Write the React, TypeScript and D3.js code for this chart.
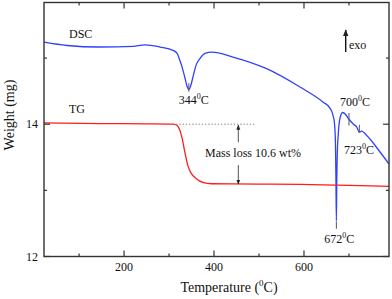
import React from "react";
import * as d3 from "d3";

// temperature (C) and weight (mg)
const tgTemp = [22, 146, 250, 309, 318, 324, 329, 335, 342, 349, 360, 375, 395, 500, 591, 700, 789];
const tgWeight = [14.02, 14.01, 14.005, 14.0, 13.98, 13.91, 13.79, 13.58, 13.37, 13.26, 13.18, 13.12, 13.1, 13.095, 13.09, 13.075, 13.06];

// DSC signal, drawn on the weight axis (arbitrary units)
const dscTemp = [22, 73, 146, 220, 246, 280, 309, 318, 324, 331, 335, 340, 344, 349, 353, 360, 369, 380, 395, 442, 517, 591, 642, 658, 664, 668, 670, 671, 672, 673, 674, 676, 680, 686, 693, 700, 710, 717, 723, 728, 739, 769, 789];
const dscValue = [15.24, 15.19, 15.167, 15.177, 15.2, 15.167, 15.117, 15.07, 14.966, 14.815, 14.71, 14.574, 14.524, 14.6, 14.71, 14.89, 14.996, 15.07, 15.09, 15.016, 14.84, 14.563, 14.337, 14.24, 14.15, 14.0, 13.7, 13.2, 12.54, 13.2, 13.55, 13.83, 14.09, 14.177, 14.143, 14.075, 14.0, 13.96, 13.88, 13.894, 13.834, 13.58, 13.4];

const xMajor = [200, 400, 600];
const xMinor = [100, 300, 500, 700];
const yMajor = [12, 14];
const yMinor = [13, 15];

const peaks = [
  { t: 344, label: "344", dx: -10, y0: 14.62, y1: 14.49, ty: 14.3 },
  { t: 672, label: "672", dx: -12, y0: 12.53, y1: 12.42, ty: 12.2 },
];

const W = 392;
const H = 299;
const m = { left: 44, right: 3, top: 2.5, bottom: 42.5 };

const serif = "'Liberation Serif', 'DejaVu Serif', serif";
const axisColor = "#333";

export default function App() {
  const x = d3.scaleLinear().domain([22, 789]).range([m.left, W - m.right]);
  const y = d3.scaleLinear().domain([12, 15.84]).range([H - m.bottom, m.top]);

  const line = d3
    .line<[number, number]>()
    .x((d) => x(d[0]))
    .y((d) => y(d[1]))
    .curve(d3.curveMonotoneX);

  const tg = line(tgTemp.map((t, i) => [t, tgWeight[i]] as [number, number])) || "";
  const dsc = line(dscTemp.map((t, i) => [t, dscValue[i]] as [number, number])) || "";

  const x0 = m.left;
  const x1 = W - m.right;
  const y0 = H - m.bottom;
  const y1 = m.top;

  const arrowX = x(454);
  const arrowTop = y(14.0);
  const arrowBottom = y(13.095);

  return (
    <div style={{ position: "fixed", left: 0, top: 0 }}>
      <svg width={W} height={H} style={{ display: "block", background: "#fff" }}>
        <defs>
          <marker id="ah" viewBox="0 0 10 10" refX="9" refY="5" markerWidth="5" markerHeight="6" orient="auto-start-reverse">
            <path d="M0,1 L10,5 L0,9 z" fill="#222" />
          </marker>
        </defs>

        {/* curves */}
        <path d={dsc} fill="none" stroke="#3040ff" strokeWidth={1.3} />
        <path d={tg} fill="none" stroke="#ff1c1c" strokeWidth={1.3} />

        {/* frame */}
        <rect x={x0} y={y1} width={x1 - x0} height={y0 - y1} fill="none" stroke={axisColor} strokeWidth={1.4} />

        {/* x ticks bottom + top */}
        {xMajor.map((t) => (
          <g key={"xm" + t}>
            <line x1={x(t)} x2={x(t)} y1={y0} y2={y0 - 6} stroke={axisColor} strokeWidth={1.2} />
            <line x1={x(t)} x2={x(t)} y1={y1} y2={y1 + 6} stroke={axisColor} strokeWidth={1.2} />
            <text x={x(t)} y={271} textAnchor="middle" fontFamily={serif} fontSize={12} fill="#111">
              {t}
            </text>
          </g>
        ))}
        {xMinor.map((t) => (
          <g key={"xn" + t}>
            <line x1={x(t)} x2={x(t)} y1={y0} y2={y0 - 3} stroke={axisColor} strokeWidth={1.2} />
            <line x1={x(t)} x2={x(t)} y1={y1} y2={y1 + 3} stroke={axisColor} strokeWidth={1.2} />
          </g>
        ))}

        {/* y ticks left + right */}
        {yMajor.map((v) => (
          <g key={"ym" + v}>
            <line x1={x0} x2={x0 + 6} y1={y(v)} y2={y(v)} stroke={axisColor} strokeWidth={1.2} />
            <line x1={x1} x2={x1 - 6} y1={y(v)} y2={y(v)} stroke={axisColor} strokeWidth={1.2} />
            <text x={38} y={y(v) + 4} textAnchor="end" fontFamily={serif} fontSize={12} fill="#111">
              {v}
            </text>
          </g>
        ))}
        {yMinor.map((v) => (
          <g key={"yn" + v}>
            <line x1={x0} x2={x0 + 3} y1={y(v)} y2={y(v)} stroke={axisColor} strokeWidth={1.2} />
            <line x1={x1} x2={x1 - 3} y1={y(v)} y2={y(v)} stroke={axisColor} strokeWidth={1.2} />
          </g>
        ))}

        {/* axis titles */}
        <text x={229} y={292} textAnchor="middle" fontFamily={serif} fontSize={14} fill="#111">
          Temperature (<tspan fontSize={9} dy={-6}>0</tspan>
          <tspan dy={6}>C)</tspan>
        </text>
        <text
          transform={`translate(14, 115) rotate(-90)`}
          textAnchor="middle"
          fontFamily={serif}
          fontSize={14}
          fill="#111"
        >
          Weight (mg)
        </text>

        {/* curve names */}
        <text x={69} y={37.5} fontFamily={serif} fontSize={12} fill="#111">DSC</text>
        <text x={69} y={113} fontFamily={serif} fontSize={12} fill="#111">TG</text>

        {/* peak markers */}
        {peaks.map((p) => (
          <g key={p.label}>
            <line x1={x(p.t)} x2={x(p.t)} y1={y(p.y0)} y2={y(p.y1)} stroke="#555" strokeWidth={1} />
            <text x={x(p.t) + p.dx} y={y(p.ty)} fontFamily={serif} fontSize={12} fill="#111">
              {p.label}
              <tspan fontSize={8} dy={-5}>0</tspan>
              <tspan dy={5}>C</tspan>
            </text>
          </g>
        ))}
        <line x1={x(700)} x2={x(700)} y1={y(14.17)} y2={y(13.98)} stroke="#555" strokeWidth={1} />
        <text x={340} y={106} fontFamily={serif} fontSize={12} fill="#111">
          700<tspan fontSize={8} dy={-5}>0</tspan>
          <tspan dy={5}>C</tspan>
        </text>
        <line x1={x(723)} x2={x(723)} y1={y(13.99)} y2={y(13.87)} stroke="#555" strokeWidth={1} />
        <text x={344} y={154} fontFamily={serif} fontSize={12} fill="#111">
          723<tspan fontSize={8} dy={-5}>0</tspan>
          <tspan dy={5}>C</tspan>
        </text>

        {/* exo arrow */}
        <line x1={345.7} x2={345.7} y1={52} y2={30} stroke="#111" strokeWidth={1.4} markerEnd="url(#ah)" />
        <text x={349} y={49} fontFamily={serif} fontSize={12} fill="#111">exo</text>

        {/* mass loss annotation */}
        <line x1={x(309)} x2={x(491)} y1={y(14.0)} y2={y(14.0)} stroke="#777" strokeWidth={1} strokeDasharray="1.2,2" />
        <line x1={arrowX} x2={arrowX} y1={arrowTop + 18} y2={arrowTop + 1} stroke="#555" strokeWidth={1} markerEnd="url(#ah)" />
        <line x1={arrowX} x2={arrowX} y1={arrowBottom - 19} y2={arrowBottom} stroke="#555" strokeWidth={1} markerEnd="url(#ah)" />
        <text x={253} y={157} textAnchor="middle" fontFamily={serif} fontSize={12} fill="#111">
          Mass loss 10.6 wt%
        </text>
      </svg>
    </div>
  );
}
